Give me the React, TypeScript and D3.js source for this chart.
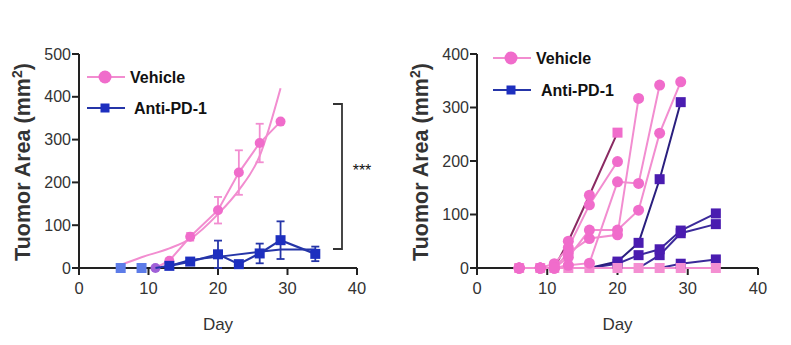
import React from 'react';
import * as d3 from 'd3';

// ---------- Left panel (group means) ----------
const xTicks = [0, 10, 20, 30, 40];
const leftYTicks = [0, 100, 200, 300, 400, 500];
const rightYTicks = [0, 100, 200, 300, 400];

const vehDays = [11, 13, 16, 20, 23, 26, 29];
const vehMean = [0, 17, 73, 135, 223, 292, 342];
const vehErr = [0, 0, 9, 31, 52, 45, 0];
const vehFitDays = [6, 9, 13, 16, 20, 23, 26, 29];
const vehFit = [7, 25, 46, 68, 126, 182, 262, 420];

const antiDays = [6, 9, 13, 16, 20, 23, 26, 29, 34];
const antiMean = [0, 0, 5, 15, 32, 9, 34, 65, 33];
const antiErr = [0, 0, 2, 8, 32, 4, 23, 44, 17];
const antiFitDays = [11, 13, 16, 20, 26, 29, 34];
const antiFit = [0, 5, 19, 26, 38, 43, 43];

// ---------- Right panel (individual mice) ----------
const vehMiceDays = [
  [6, 9, 11, 13, 16, 20],
  [6, 9, 11, 13, 16, 20],
  [6, 9, 11, 13, 16, 20, 23],
  [6, 9, 11, 13, 16, 20, 23, 26, 29],
  [6, 9, 11, 13, 16, 20, 23, 26],
];
const vehMiceVals = [
  [0, 0, 0, 50, 136, 253],
  [0, 0, 8, 38, 118, 199],
  [0, 0, 0, 28, 55, 62, 317],
  [0, 0, 0, 20, 71, 71, 108, 252, 348],
  [0, 0, 0, 5, 9, 161, 158, 342],
];
const antiMiceDays = [
  [6, 9, 11, 13, 16, 20, 23, 26, 29, 34],
  [6, 9, 11, 13, 16, 20, 23, 26, 29, 34],
  [6, 9, 11, 13, 16, 20, 23, 26, 29, 34],
  [6, 9, 11, 13, 16, 20, 23, 26, 29],
  [6, 9, 11, 13, 16, 20, 23, 26, 29, 34],
];
const antiMiceVals = [
  [0, 0, 0, 0, 0, 0, 0, 0, 8, 16],
  [0, 0, 0, 0, 0, 0, 0, 24, 65, 82],
  [0, 0, 0, 0, 0, 8, 24, 35, 70, 102],
  [0, 0, 0, 0, 0, 12, 47, 166, 310],
  [0, 0, 0, 0, 0, 0, 0, 0, 0, 0],
];

const FONT = '"Liberation Sans", Arial, sans-serif';
const PINK = '#f06ccb';
const PINK_LINE = '#f28dd0';
const BLUE = '#1d2fbf';
const BLUE_LINE = '#2535a8';
const AXIS = '#222';
const TXT = '#333';

function Axes({ x, y, yTicks, titleX }: any) {
  const [x0, x1] = x.range();
  const [y0, y1] = y.range();
  const ax = x(0);
  return (
    <g fontFamily={FONT}>
      <line x1={ax} x2={ax} y1={y0} y2={y1} stroke={AXIS} strokeWidth={2} />
      <line x1={x0} x2={x1} y1={y(0)} y2={y(0)} stroke={AXIS} strokeWidth={2} />
      {yTicks.map((t: number) => (
        <g key={'y' + t}>
          <line x1={ax - 7} x2={ax} y1={y(t)} y2={y(t)} stroke={AXIS} strokeWidth={2} />
          <text x={ax - 8} y={y(t)} dy="0.35em" textAnchor="end" fontSize={16} fill={TXT}>{t}</text>
        </g>
      ))}
      {xTicks.map((t) => (
        <g key={'x' + t}>
          <line x1={x(t)} x2={x(t)} y1={y(0)} y2={y(0) + 7} stroke={AXIS} strokeWidth={2} />
          <text x={x(t)} y={y(0) + 26} textAnchor="middle" fontSize={16.5} fill={TXT}>{t}</text>
        </g>
      ))}
      <text x={(x(0) + x(40)) / 2} y={330} textAnchor="middle" fontSize={17} fill={TXT}>Day</text>
      <text transform={`translate(${titleX},${(y0 + y1) / 2 + 1}) rotate(-90)`} textAnchor="middle" fontSize={21.5} fontWeight="bold" fill={TXT}>
        Tuomor Area (mm<tspan dy={-8} fontSize={14}>2</tspan><tspan dy={8}>)</tspan>
      </text>
    </g>
  );
}

function Legend({ lx, vy, ay, vText, aText }: any) {
  return (
    <g fontFamily={FONT} fontWeight="bold" fontSize={16} fill="#111">
      <line x1={lx} x2={lx + 38} y1={vy} y2={vy} stroke={PINK_LINE} strokeWidth={2} />
      <circle cx={lx + 18} cy={vy} r={6.5} fill={PINK} />
      <text x={vText} y={vy} dy="0.35em">Vehicle</text>
      <line x1={lx} x2={lx + 38} y1={ay} y2={ay} stroke={BLUE_LINE} strokeWidth={2} />
      <rect x={lx + 18 - 4.5} y={ay - 4.5} width={9} height={9} fill={BLUE} />
      <text x={aText} y={ay} dy="0.35em">Anti-PD-1</text>
    </g>
  );
}

export default function App() {
  const xL = d3.scaleLinear().domain([0, 40]).range([79, 357]);
  const yL = d3.scaleLinear().domain([0, 500]).range([268, 54]);
  const xR = d3.scaleLinear().domain([0, 40]).range([477, 758]);
  const yR = d3.scaleLinear().domain([0, 400]).range([268, 54]);

  const lineL = (ds: number[], vs: number[], curve: any = d3.curveLinear) =>
    d3.line<number>().x((_, i) => xL(ds[i])).y((v) => yL(v)).curve(curve)(vs) || '';
  const lineR = (ds: number[], vs: number[]) =>
    d3.line<number>().x((_, i) => xR(ds[i])).y((v) => yR(v))(vs) || '';

  const errBars = (ds: number[], ms: number[], es: number[], color: string) =>
    ds.map((d, i) =>
      es[i] > 0 ? (
        <g key={'e' + d} stroke={color} strokeWidth={1.8}>
          <line x1={xL(d)} x2={xL(d)} y1={yL(ms[i] - es[i])} y2={yL(ms[i] + es[i])} />
          <line x1={xL(d) - 4} x2={xL(d) + 4} y1={yL(ms[i] + es[i])} y2={yL(ms[i] + es[i])} />
          <line x1={xL(d) - 4} x2={xL(d) + 4} y1={yL(ms[i] - es[i])} y2={yL(ms[i] - es[i])} />
        </g>
      ) : null
    );

  const vehLineColors = ['#8a2a62', PINK_LINE, PINK_LINE, PINK_LINE, PINK_LINE];
  const antiLineColors = ['#3b2a9a', '#3b2a9a', '#3b2a9a', '#2a1f7e', PINK_LINE];
  const antiMarkColors = ['#4a1cb0', '#4a1cb0', '#4a1cb0', '#4a1cb0', '#f48fd2'];

  return (
    <svg width={791} height={345} style={{ position: 'absolute', left: 0, top: 0, background: '#fff' }}>
      {/* ---- Left panel ---- */}
      <Axes x={xL} y={yL} yTicks={leftYTicks} titleX={30} />
      <path d={lineL(vehFitDays, vehFit, d3.curveMonotoneX)} fill="none" stroke={PINK_LINE} strokeWidth={2} />
      <path d={lineL(vehDays, vehMean)} fill="none" stroke={PINK_LINE} strokeWidth={2} />
      {errBars(vehDays, vehMean, vehErr, PINK_LINE)}
      {vehDays.map((d, i) => (
        <circle key={'vc' + d} cx={xL(d)} cy={yL(vehMean[i])} r={5} fill={i === 0 ? '#a060d8' : PINK} />
      ))}
      <path d={lineL(antiFitDays, antiFit)} fill="none" stroke={BLUE_LINE} strokeWidth={2} />
      <path d={lineL(antiDays.slice(2), antiMean.slice(2))} fill="none" stroke={BLUE_LINE} strokeWidth={2.2} />
      {errBars(antiDays, antiMean, antiErr, BLUE_LINE)}
      {antiDays.map((d, i) => (
        <rect key={'as' + d} x={xL(d) - 5} y={yL(antiMean[i]) - 5} width={10} height={10}
          fill={d < 11 ? '#5d7ce8' : BLUE} />
      ))}
      <g stroke="#333" strokeWidth={1.8} fill="none">
        <path d={`M333,104 H342 V249 H333`} />
      </g>
      <text x={362} y={176} textAnchor="middle" fontFamily={FONT} fontSize={16} fill="#111">***</text>
      <Legend lx={87} vy={77} ay={108} vText={130} aText={134} />

      {/* ---- Right panel ---- */}
      <Axes x={xR} y={yR} yTicks={rightYTicks} titleX={428} />
      {antiMiceDays.map((ds, k) => (
        <path key={'al' + k} d={lineR(ds, antiMiceVals[k])} fill="none" stroke={antiLineColors[k]} strokeWidth={2} />
      ))}
      {antiMiceDays.map((ds, k) =>
        ds.map((d, i) => (
          <rect key={'am' + k + '-' + d} x={xR(d) - 5} y={yR(antiMiceVals[k][i]) - 5} width={10} height={10}
            fill={antiMarkColors[k]} opacity={k < 4 && antiMiceVals[k][i] === 0 ? 0 : 1} />
        ))
      )}
      {vehMiceDays.map((ds, k) => (
        <path key={'vl' + k} d={lineR(ds, vehMiceVals[k])} fill="none" stroke={vehLineColors[k]} strokeWidth={2} />
      ))}
      {vehMiceDays.map((ds, k) =>
        ds.map((d, i) => (
          k === 0 && i === ds.length - 1 ? (
            <rect key={'vm' + k + '-' + d} x={xR(d) - 5} y={yR(vehMiceVals[k][i]) - 5} width={10} height={10} fill={PINK} />
          ) : (
            <circle key={'vm' + k + '-' + d} cx={xR(d)} cy={yR(vehMiceVals[k][i])} r={5.5} fill={PINK} />
          )
        ))
      )}
      <Legend lx={493} vy={58} ay={90} vText={536} aText={541} />
    </svg>
  );
}
